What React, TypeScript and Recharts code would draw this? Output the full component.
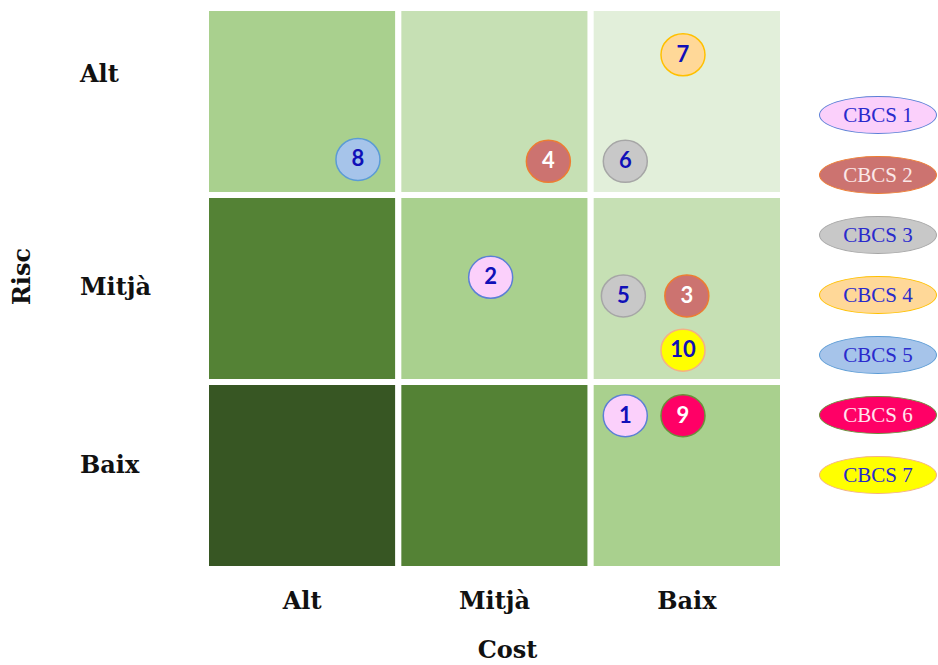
import React from 'react'
import { ScatterChart, Scatter, XAxis, YAxis, ReferenceArea, Legend } from 'recharts'

// Cost runs left→right (Alt, Mitjà, Baix); Risc runs bottom→top (Baix, Mitjà, Alt)
const costLabels = ['Alt', 'Mitjà', 'Baix']
const riskLabels = ['Baix', 'Mitjà', 'Alt']
const levelTicks = [0.5, 1.5, 2.5]

// matrix shades, indexed [riskIndex][costIndex]
const cellShades = [
  ['#375623', '#548235', '#a9d08e'],
  ['#548235', '#a9d08e', '#c6e0b4'],
  ['#a9d08e', '#c6e0b4', '#e2efda'],
]

const groupNames = ['CBCS 1', 'CBCS 2', 'CBCS 3', 'CBCS 4', 'CBCS 5', 'CBCS 6', 'CBCS 7']

// numbered items per group: position inside the matrix (cost, risk)
const cbcs1 = [{ id: 1, cost: 2.18, risk: 0.82 }, { id: 2, cost: 1.48, risk: 1.56 }]
const cbcs2 = [{ id: 3, cost: 2.5, risk: 1.46 }, { id: 4, cost: 1.78, risk: 2.18 }]
const cbcs3 = [{ id: 5, cost: 2.17, risk: 1.46 }, { id: 6, cost: 2.18, risk: 2.18 }]
const cbcs4 = [{ id: 7, cost: 2.48, risk: 2.75 }]
const cbcs5 = [{ id: 8, cost: 0.79, risk: 2.19 }]
const cbcs6 = [{ id: 9, cost: 2.48, risk: 0.82 }]
const cbcs7 = [{ id: 10, cost: 2.48, risk: 1.17 }]

const groupData = [cbcs1, cbcs2, cbcs3, cbcs4, cbcs5, cbcs6, cbcs7]

const groupStyles = [
  { fill: '#fbd0fb', stroke: '#5b7fd6', text: '#2a2acc' },
  { fill: '#cc7370', stroke: '#ed7d31', text: '#fbe8e8' },
  { fill: '#c8c8c8', stroke: '#a6a6a6', text: '#2a2acc' },
  { fill: '#ffd898', stroke: '#ffc000', text: '#2a2acc' },
  { fill: '#a6c4ea', stroke: '#5b9bd5', text: '#2a2acc' },
  { fill: '#ff0066', stroke: '#6a8f3a', text: '#ffe4ee' },
  { fill: '#ffff00', stroke: '#f4b183', text: '#2a2acc' },
]

const labelFont = '"DejaVu Serif", serif'
const riskTickNudge = [-3, 6, -20]

const makeMarker = (groupIndex: number) => (props: any) => {
  const { cx, cy, payload } = props
  const s = groupStyles[groupIndex]
  return (
    <g>
      <ellipse cx={cx} cy={cy} rx={22} ry={21} fill={s.fill} stroke={s.stroke} strokeWidth={1.5} />
      <text
        x={cx}
        y={cy + 7}
        textAnchor="middle"
        fontFamily="Lato, sans-serif"
        fontWeight={700}
        fontSize={22}
        fill={groupIndex === 1 || groupIndex === 5 ? '#ffffff' : '#1010b8'}
      >
        {payload.id}
      </text>
    </g>
  )
}

const CostTick = (props: any) => {
  const { x, y, index } = props
  return (
    <text x={x} y={y + 32} textAnchor="middle" fontFamily={labelFont} fontWeight={700} fontSize={24} fill="#111">
      {costLabels[index]}
    </text>
  )
}

const RiskTick = (props: any) => {
  const { y, index } = props
  return (
    <text x={80} y={y + riskTickNudge[index]} textAnchor="start" fontFamily={labelFont} fontWeight={700} fontSize={24} fill="#111">
      {riskLabels[index]}
    </text>
  )
}

const CbcsLegend = () => (
  <div style={{ display: 'flex', flexDirection: 'column', gap: 22 }}>
    {groupNames.map((name, i) => (
      <div
        key={name}
        style={{
          marginLeft: 21,
          width: 118,
          height: 38,
          boxSizing: 'border-box',
          borderRadius: '50%',
          background: groupStyles[i].fill,
          border: `1.5px solid ${groupStyles[i].stroke}`,
          color: groupStyles[i].text,
          fontFamily: '"Liberation Serif", serif',
          fontSize: 21,
          lineHeight: '36px',
          textAlign: 'center',
        }}
      >
        {name}
      </div>
    ))}
  </div>
)

export default function App() {
  return (
    <div style={{ position: 'absolute', left: 0, top: 0, width: 938, height: 665, background: '#fff' }}>
      <ScatterChart width={938} height={665} margin={{ top: 8, right: 15, bottom: 0, left: 0 }}>
        <XAxis
          type="number"
          dataKey="cost"
          domain={[0, 3]}
          ticks={levelTicks}
          axisLine={false}
          tickLine={false}
          height={96}
          tick={<CostTick />}
          label={{
            content: (p: any) => (
              <text
                x={p.viewBox.x + p.viewBox.width / 2 + 13}
                y={p.viewBox.y + 89}
                textAnchor="middle"
                fontFamily={labelFont}
                fontWeight={700}
                fontSize={24}
                fill="#111"
              >
                Cost
              </text>
            ),
          }}
        />
        <YAxis
          type="number"
          dataKey="risk"
          domain={[0, 3]}
          ticks={levelTicks}
          axisLine={false}
          tickLine={false}
          width={206}
          tick={<RiskTick />}
          label={{
            content: (p: any) => {
              const cx = 30
              const cy = p.viewBox.y + p.viewBox.height / 2 - 12
              return (
                <text
                  x={cx}
                  y={cy}
                  transform={`rotate(-90 ${cx} ${cy})`}
                  textAnchor="middle"
                  fontFamily={labelFont}
                  fontWeight={700}
                  fontSize={24}
                  fill="#111"
                >
                  Risc
                </text>
              )
            },
          }}
        />
        {cellShades.map((row, r) =>
          row.map((shade, c) => (
            <ReferenceArea
              key={`cell-${r}-${c}`}
              x1={c}
              x2={c + 1}
              y1={r}
              y2={r + 1}
              fill={shade}
              fillOpacity={1}
              stroke="#ffffff"
              strokeWidth={6}
              ifOverflow="visible"
            />
          ))
        )}
        <Legend
          layout="vertical"
          align="right"
          verticalAlign="top"
          content={<CbcsLegend />}
          wrapperStyle={{ top: 96, right: 0, width: 140 }}
        />
        {groupData.map((pts, i) => (
          <Scatter
            key={groupNames[i]}
            name={groupNames[i]}
            data={pts}
            shape={makeMarker(i)}
            isAnimationActive={false}
          />
        ))}
      </ScatterChart>
    </div>
  )
}
